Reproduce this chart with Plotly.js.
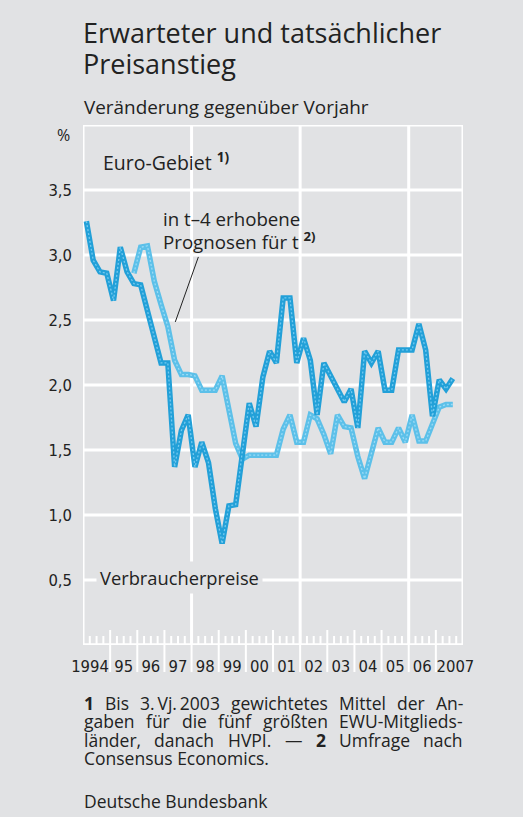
<!DOCTYPE html>
<html>
<head>
<meta charset="utf-8">
<script src="https://cdn.plot.ly/plotly-3.0.1.min.js"></script>
<style>
html,body{margin:0;padding:0;background:#e1e2e4;}
#chart{width:523px;height:817px;}
</style>
</head>
<body>
<div id="chart"></div>
<script>
// ---- Data (quarterly, year-on-year change in %) ----
const actualStart = [1994, 1];   // first quarter of the consumer price series
const actual = [
  3.26, 2.96, 2.87, 2.86,   // 1994
  2.65, 3.06, 2.87, 2.78,   // 1995
  2.77, 2.57, 2.37, 2.17,   // 1996
  2.17, 1.37, 1.65, 1.77,   // 1997
  1.37, 1.56, 1.40, 1.05,   // 1998
  0.78, 1.07, 1.08, 1.50,   // 1999
  1.86, 1.68, 2.06, 2.26,   // 2000
  2.17, 2.67, 2.67, 2.17,   // 2001
  2.36, 2.19, 1.77, 2.17,   // 2002
  2.07, 1.97, 1.87, 1.97,   // 2003
  1.67, 2.26, 2.17, 2.26,   // 2004
  1.96, 1.96, 2.27, 2.27,   // 2005
  2.27, 2.47, 2.27, 1.76,   // 2006
  2.04, 1.97, 2.05          // 2007
];
const forecastStart = [1995, 4]; // first quarter of the t-4 forecast series
const forecast = [
  2.86,                     // 1995 Q4
  3.06, 3.07, 2.80, 2.62,   // 1996
  2.45, 2.19, 2.08, 2.08,   // 1997
  2.07, 1.96, 1.96, 1.96,   // 1998
  2.07, 1.81, 1.55, 1.43,   // 1999
  1.46, 1.46, 1.46, 1.46,   // 2000
  1.46, 1.66, 1.77, 1.56,   // 2001
  1.56, 1.77, 1.74, 1.62,   // 2002
  1.47, 1.77, 1.68, 1.67,   // 2003
  1.45, 1.28, 1.47, 1.67,   // 2004
  1.56, 1.56, 1.67, 1.56,   // 2005
  1.77, 1.57, 1.57, 1.70,   // 2006
  1.83, 1.85, 1.85          // 2007
];
const yearLabels = ["1994","95","96","97","98","99","00","01","02","03","04","05","06","2007"];
const yTickVals = [0.5, 1.0, 1.5, 2.0, 2.5, 3.0, 3.5];
const yTickText = ["0,5","1,0","1,5","2,0","2,5","3,0","3,5"];

// quarter -> decimal-year position (middle of the quarter)
function quarterX(start, n) {
  const xs = [];
  for (let i = 0; i < n; i++) {
    const q = start[1] - 1 + i;
    const yr = start[0] + Math.floor(q / 4);
    const qq = q % 4;
    xs.push(yr + (qq + 0.5) / 4);
  }
  return xs;
}

const BG = '#e1e2e4';
const DARK = '#22a0d8';
const LIGHT = '#5cc0e9';

const xA = quarterX(actualStart, actual.length);
const xF = quarterX(forecastStart, forecast.length);

const traces = [
  {x: xF, y: forecast, type: 'scatter', mode: 'lines', name: 'Prognose',
   line: {color: LIGHT, width: 5.5}, hoverinfo: 'skip'},
  {x: xF, y: forecast, type: 'scatter', mode: 'lines', showlegend: false,
   line: {color: '#9adaf5', width: 1.3, dash: '2px,2px'}, hoverinfo: 'skip'},
  {x: xA, y: actual, type: 'scatter', mode: 'lines', name: 'Verbraucherpreise',
   line: {color: DARK, width: 5.5}, hoverinfo: 'skip'},
  {x: xA, y: actual, type: 'scatter', mode: 'lines', showlegend: false,
   line: {color: '#74c9ef', width: 1.3, dash: '2px,2px'}, hoverinfo: 'skip'}
];

// plot area in pixels
const L = 83, R = 60, T = 125, B = 172, W = 523, H = 817;
const plotW = W - L - R, plotH = H - T - B;
const py = p => (H - B - p) / plotH;        // pixel y -> paper y
const px = p => (p - L) / plotW;            // pixel x -> paper x

const shapes = [];
for (let v = 0.5; v <= 4.0001; v += 0.5) {
  shapes.push({type: 'line', xref: 'x', yref: 'y', x0: 1994, x1: 2008, y0: v, y1: v,
               line: {color: '#ffffff', width: 3}, layer: 'below'});
}
shapes.push({type: 'line', xref: 'x', yref: 'y', x0: 1994, x1: 2008, y0: 0, y1: 0,
             line: {color: '#ffffff', width: 3.5}, layer: 'below'});
[1994, 1998, 2002, 2006, 2008].forEach(v => {
  shapes.push({type: 'line', xref: 'x', yref: 'y', x0: v, x1: v, y0: 0, y1: 4,
               line: {color: '#ffffff', width: 3}, layer: 'below'});
});
for (let yr = 1995; yr <= 2007; yr++) {
  shapes.push({type: 'line', xref: 'x', yref: 'paper', x0: yr, x1: yr, y0: py(672), y1: py(630),
               line: {color: '#ffffff', width: 2}, layer: 'below'});
}
for (let yr = 1994; yr < 2008; yr++) {
  for (let q = 1; q < 4; q++) {
    shapes.push({type: 'line', xref: 'x', yref: 'paper', x0: yr + q / 4, x1: yr + q / 4,
                 y0: py(645), y1: py(636), line: {color: '#ffffff', width: 2}, layer: 'below'});
  }
}
shapes.push({type: 'line', xref: 'x', yref: 'y', x0: 1998.25, y0: 2.985, x1: 1997.40, y1: 2.485,
             line: {color: '#222222', width: 1}});

const FAM = 'Open Sans';
const FONT = 'Open Sans, Noto Sans, sans-serif';
const NARROW = 'Liberation Sans Narrow, DejaVu Sans Condensed, sans-serif';
const TXT = '#222222';

const ann = [];
function addText(text, xp, yp, size, opts) {
  ann.push(Object.assign({text: text, xref: 'paper', yref: 'paper', x: px(xp), y: py(yp),
    xanchor: 'left', yanchor: 'middle', showarrow: false, borderpad: 0,
    font: {family: FONT, size: size, color: TXT}}, opts || {}));
}

// justified footnote line: words spread between x0 and x1
const cv = document.createElement('canvas').getContext('2d');
function justify(words, x0, x1, yp, size) {
  const widths = words.map(w => {
    const bold = /^<b>/.test(w);
    cv.font = (bold ? 'bold ' : '') + size + 'px "' + FAM + '"';
    return cv.measureText(w.replace(/<[^>]+>/g, '')).width;
  });
  const total = widths.reduce((a, b) => a + b, 0);
  const gap = (x1 - x0 - total) / (words.length - 1);
  let x = x0;
  words.forEach((w, i) => {
    addText(w, x, yp, size);
    x += widths[i] + gap;
  });
}

addText('Erwarteter und tatsächlicher', 82, 33, 27);
addText('Preisanstieg', 82, 64, 27);
addText('Veränderung gegenüber Vorjahr', 83, 107, 18.9);
addText('%', 56, 135, 16);
addText('Euro-Gebiet <sup><b>1)</b></sup>', 102, 161, 19.5);
addText('in t–4 erhobene', 162, 218, 18.7);
addText('Prognosen für t <sup><b>2)</b></sup>', 162, 240, 18.7);
addText('Verbraucherpreise', 96, 577, 18.3, {bgcolor: BG, borderpad: 3});

const FN = 17.5;
justify(['<b>1</b>', 'Bis', '3.\u2009Vj.\u20092003', 'gewichtetes', 'Mittel', 'der', 'An-'], 83, 462, 703, FN);
justify(['gaben', 'für', 'die', 'fünf', 'größten', 'EWU-Mitglieds-'], 83, 462, 721, FN);
justify(['länder,', 'danach', 'HVPI.', '—', '<b>2</b>', 'Umfrage', 'nach'], 83, 462, 740, FN);
addText('Consensus Economics.', 83, 758, FN);
addText('Deutsche Bundesbank', 83, 801, FN);

const tickX = yearLabels.map((s, i) => 1994 + i + 0.5);
tickX[0] = 1994.26;
tickX[tickX.length - 1] = 2007.72;

const layout = {
  width: W, height: H,
  margin: {l: L, r: R, t: T, b: B, pad: 0},
  paper_bgcolor: BG, plot_bgcolor: BG,
  showlegend: false,
  xaxis: {range: [1994, 2008], showgrid: false, zeroline: false, showline: false,
          tickmode: 'array', tickvals: tickX, ticktext: yearLabels, ticks: '',
          ticklabelstandoff: 9,
          tickfont: {family: NARROW, size: 16.5, color: TXT}, fixedrange: true},
  yaxis: {range: [0, 4], showgrid: false, zeroline: false, showline: false,
          tickmode: 'array', tickvals: yTickVals, ticktext: yTickText, ticks: '',
          ticklabelstandoff: 10,
          tickfont: {family: NARROW, size: 16.5, color: TXT}, fixedrange: true},
  shapes: shapes,
  annotations: ann
};

Plotly.newPlot('chart', traces, layout, {displayModeBar: false, staticPlot: true});
</script>
</body>
</html>
